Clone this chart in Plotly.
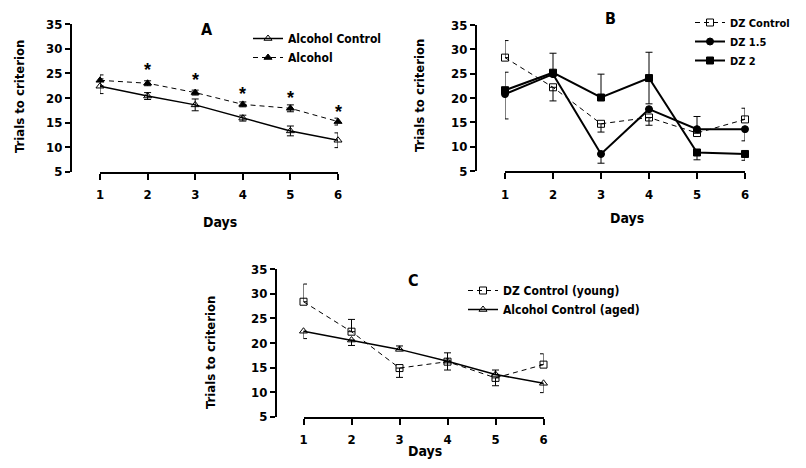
import plotly.graph_objects as go

PAGE_W, PAGE_H = 806, 468
OFF = 8  # default page body margin
W, H = PAGE_W - 2 * OFF, PAGE_H - 2 * OFF
FONT = "DejaVu Sans Condensed, Liberation Sans Narrow, DejaVu Sans, Liberation Sans"

days = [1, 2, 3, 4, 5, 6]
y_ticks = [5, 10, 15, 20, 25, 30, 35]

# Panel A
a_ctrl = [22.4, 20.4, 18.6, 15.9, 13.3, 11.4]
a_ctrl_err = [1.5, 0.7, 1.2, 0.6, 1.0, 1.5]
a_alc = [23.6, 23.0, 21.1, 18.7, 17.9, 15.2]
a_alc_err = [1.1, 0.5, 0.5, 0.5, 0.7, 0.7]
a_star_days = [2, 3, 4, 5, 6]
a_star_y = [25.7, 23.6, 20.9, 20.1, 17.2]

# Panel B
b_ctrl = [28.3, 22.2, 14.7, 16.0, 12.8, 15.6]
b_ctrl_up = [3.5, 0, 0, 0, 0, 2.3]
b_ctrl_dn = [0, 2.8, 1.7, 1.6, 0, 0]
b_dz15 = [20.8, 24.9, 8.5, 17.7, 13.6, 13.6]
b_dz15_up = [0, 0, 0, 0, 2.6, 0]
b_dz15_dn = [5.1, 0, 1.9, 0, 0, 2.4]
b_dz2 = [21.6, 25.2, 20.1, 24.1, 8.8, 8.5]
b_dz2_up = [3.7, 4.0, 4.8, 5.3, 0, 0]
b_dz2_dn = [0, 0, 0, 5.3, 1.5, 1.3]

# Panel C
c_young = [28.4, 22.3, 14.9, 16.2, 12.9, 15.6]
c_young_up = [3.6, 2.5, 0, 1.8, 0, 2.2]
c_young_dn = [0, 0, 1.9, 1.7, 1.6, 0]
c_aged = [22.4, 20.6, 18.7, 16.3, 13.6, 11.8]
c_aged_up = [0, 0, 0.7, 0, 0.9, 0]
c_aged_dn = [1.5, 1.1, 0, 0, 0, 1.9]


def px(x):
    return (x - OFF) / W


def py(y):
    return 1 - (y - OFF) / H


fig = go.Figure()


def add(y, name, xa, ya, leg, symbol, dash, lw, up, dn, msize=7):
    fig.add_trace(go.Scatter(
        x=days, y=y, name=name, xaxis=xa, yaxis=ya, legend=leg,
        mode="lines+markers", cliponaxis=False,
        line=dict(color="black", width=lw, dash=dash),
        marker=dict(symbol=symbol, size=msize, color="black",
                    line=dict(color="black", width=1)),
        error_y=dict(type="data", symmetric=False, array=up, arrayminus=dn,
                     color="black", thickness=1, width=3.5),
    ))


add(a_ctrl, "Alcohol Control", "x", "y", "legend", "triangle-up-open", "solid", 1.5,
    a_ctrl_err, a_ctrl_err)
add(a_alc, "Alcohol", "x", "y", "legend", "triangle-up", "5px,4px", 1,
    a_alc_err, a_alc_err)

add(b_ctrl, "DZ Control", "x2", "y2", "legend2", "square-open", "5px,4px", 1,
    b_ctrl_up, b_ctrl_dn, 7)
add(b_dz15, "DZ 1.5", "x2", "y2", "legend2", "circle", "solid", 2,
    b_dz15_up, b_dz15_dn, 7)
add(b_dz2, "DZ 2", "x2", "y2", "legend2", "square", "solid", 2,
    b_dz2_up, b_dz2_dn, 7)

add(c_young, "DZ Control (young)", "x3", "y3", "legend3", "square-open", "5px,4px", 1,
    c_young_up, c_young_dn, 7)
add(c_aged, "Alcohol Control (aged)", "x3", "y3", "legend3", "triangle-up-open", "solid", 1.5,
    c_aged_up, c_aged_dn)

for d, v in zip(a_star_days, a_star_y):
    fig.add_annotation(x=d, y=v, xref="x", yref="y", text="<b>*</b>", showarrow=False,
                       font=dict(family="Liberation Sans", size=18, color="#000000"),
                       xanchor="center", yanchor="middle")

tickfont = dict(family=FONT, size=13, color="black", weight="bold")


def xaxis(dom, anchor):
    return dict(domain=dom, anchor=anchor, range=[1, 6], tickvals=days,
                showline=True, linecolor="black", linewidth=2, ticks="outside",
                ticklen=6, tickwidth=1.5, tickcolor="black", showgrid=False,
                zeroline=False, tickfont=tickfont, ticklabelstandoff=4,
                automargin=False)


def yaxis(dom, pos):
    return dict(domain=dom, anchor="free", position=pos, range=[5, 35],
                tickvals=y_ticks, showline=True, linecolor="black", linewidth=2,
                ticks="outside", ticklen=5, tickwidth=1.5, tickcolor="black",
                showgrid=False, zeroline=False, tickfont=tickfont, automargin=False)


def legend(x, y, size=12):
    return dict(x=px(x), y=py(y), xanchor="left", yanchor="top",
                bgcolor="rgba(0,0,0,0)",
                font=dict(family=FONT, size=size, color="black", weight="bold"),
                tracegroupgap=0, itemwidth=30, borderwidth=0)


fig.update_layout(
    width=W, height=H, margin=dict(l=0, r=0, t=0, b=0, pad=0, autoexpand=False),
    paper_bgcolor="white", plot_bgcolor="white",
    font=dict(family=FONT, color="black"),
    xaxis=xaxis([px(100), px(338)], "y"),
    yaxis=yaxis([py(171.7), py(24.3)], px(71)),
    xaxis2=xaxis([px(505), px(745)], "y2"),
    yaxis2=yaxis([py(171), py(25)], px(476)),
    xaxis3=xaxis([px(303.5), px(543.5)], "y3"),
    yaxis3=yaxis([py(416.7), py(269.3)], px(276)),
    legend=legend(248, 24),
    legend2=legend(690, 8, 11),
    legend3=legend(463, 276),
    showlegend=True,
)

anns = [
    ("A", 207, 30, 0, 16), ("B", 610, 18, 0, 16), ("C", 414, 280, 0, 16),
    ("Days", 220, 222, 0, 14), ("Days", 627, 218, 0, 14), ("Days", 425, 451, 0, 14),
    ("Trials to criterion", 19, 97, -90, 13), ("Trials to criterion", 420, 96, -90, 13),
    ("Trials to criterion", 210, 352, -90, 13),
]
for text, x, y, ang, size in anns:
    fig.add_annotation(text=text, x=px(x), y=py(y), xref="paper", yref="paper",
                       showarrow=False, textangle=ang, xanchor="center", yanchor="middle",
                       font=dict(family=FONT, size=size, color="black", weight="bold"))

fig.write_html("out.html")
